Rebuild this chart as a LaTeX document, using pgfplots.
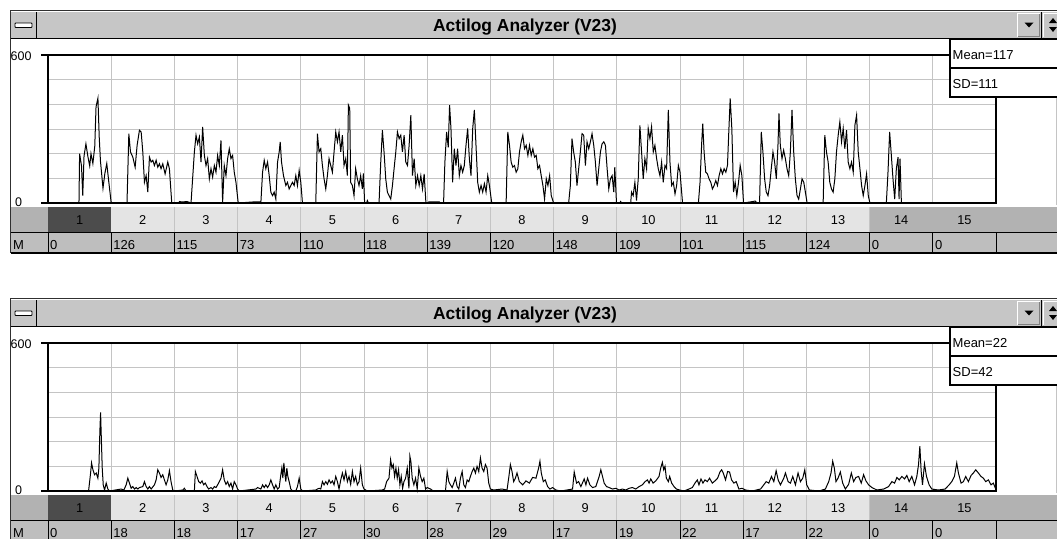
\documentclass[border=0pt]{standalone}
\usepackage{pgfplots}
\pgfplotsset{compat=1.18}
\usepackage{fontspec}
\setmainfont{Liberation Sans}
\definecolor{tbar}{HTML}{C6C6C6}
\definecolor{daylight}{HTML}{E4E4E4}
\definecolor{daydark}{HTML}{4C4C4C}
\definecolor{daymid}{HTML}{B2B2B2}
\definecolor{mrow}{HTML}{BEBEBE}
\definecolor{gridc}{HTML}{C4C4C4}
\definecolor{frame}{HTML}{303030}

\newcommand{\chrome}[4]{%
\begin{scope}[yshift=-#1pt]
 \fill[white] (10,-10) rectangle (1057,-253);
 \fill[tbar] (11,-12) rectangle (1057,-38);
 \draw[frame, line width=1.6pt] (10.5,-253) -- (10.5,-10.5) -- (1057,-10.5);
 \draw[black, line width=1pt] (11,-38.5) -- (1057,-38.5);
 \draw[black, line width=1pt] (36.5,-12) -- (36.5,-38);
 \draw[black, fill=white, line width=0.8pt, rounded corners=0.8pt] (15,-23) rectangle (32,-27.5);
 \node[font=\fontsize{17.4}{18}\selectfont\bfseries, anchor=base] at (525,-31.7) {Actilog Analyzer (V23)};
 \fill[tbar] (1017,-13) rectangle (1040,-37);
 \draw[white, line width=1pt] (1017.5,-37) -- (1017.5,-13.5) -- (1040,-13.5);
 \draw[gray, line width=1pt] (1017.5,-36.5) -- (1039.5,-36.5) -- (1039.5,-13.5);
 \fill[black] (1024.5,-22.5) -- (1033.5,-22.5) -- (1029,-27.5) -- cycle;
 \draw[black, line width=1pt] (1041.5,-12) -- (1041.5,-38);
 \fill[tbar] (1043,-13) rectangle (1057,-37);
 \draw[white, line width=1pt] (1043.5,-37) -- (1043.5,-13.5) -- (1057,-13.5);
 \fill[black] (1049,-23) -- (1057,-23) -- (1053,-18) -- cycle;
 \fill[black] (1049,-27) -- (1057,-27) -- (1053,-32) -- cycle;
 \node[font=\fontsize{12.5}{13}\selectfont, anchor=base east] at (35,-60) {600};
 \node[font=\fontsize{12.5}{13}\selectfont, anchor=base west] at (11.5,-206) {0};
 \fill[daymid] (11,-207) rectangle (48,-231.5);
 \fill[daydark] (48,-207) rectangle (111.2,-231.5);
 \fill[daylight] (111.2,-207) rectangle (869.6,-231.5);
 \fill[daymid] (869.6,-207) rectangle (1057,-231.5);
 \foreach \i in {2,...,13} \draw[gridc, line width=0.8pt] ({48+\i*63.2},-207) -- ({48+\i*63.2},-231.5);
 \foreach \i in {1,...,15} \node[font=\fontsize{12.8}{13}\selectfont, anchor=base] at ({48+(\i-0.5)*63.2},-224) {\i};
 \fill[mrow] (11,-232) rectangle (1057,-253);
 \draw[black, line width=1.5pt] (11,-232.5) -- (1057,-232.5);
 \draw[black, line width=1.2pt] (11,-253) -- (1057,-253);
 \foreach \i in {0,...,15} \draw[black, line width=1pt] ({48+\i*63.2},-232.5) -- ({48+\i*63.2},-253);
 \node[font=\fontsize{13}{13}\selectfont, anchor=base west, inner sep=0pt] at (13,-249) {M};
 \foreach \v [count=\i from 0] in {#4} \node[font=\fontsize{13}{13}\selectfont, anchor=base west, inner sep=0pt] at ({48+\i*63.2+2},-249) {\v};
\end{scope}}

\newcommand{\overlay}[3]{%
\begin{scope}[yshift=-#1pt]
 \draw[black, line width=1.1pt] (41,-55) -- (950,-55);
 \draw[black, line width=1.1pt] (41,-203) -- (996,-203);
 \draw[black, line width=1.1pt] (48,-55) -- (48,-203);
 \draw[black, line width=1.1pt] (996,-97) -- (996,-203.5);
 \draw[gridc, line width=1pt] (1056.5,-97) -- (1056.5,-205);
 \draw[black, fill=white, line width=1.5pt] (950,-39.5) rectangle (1058,-68);
 \draw[black, fill=white, line width=1.5pt] (950,-68) rectangle (1058,-97);
 \node[font=\fontsize{13}{14}\selectfont, anchor=base west, inner sep=0pt] at (952.5,-59.3) {Mean=#2};
 \node[font=\fontsize{13}{14}\selectfont, anchor=base west, inner sep=0pt] at (952.5,-88) {SD=#3};
\end{scope}}

\pgfplotsset{actistyle/.style={
  scale only axis, width=948pt, height=148pt, anchor=south west,
  xmin=0, xmax=15, ymin=0, ymax=600,
  xtick={0,...,15}, ytick={0,100,...,600},
  xticklabels={}, yticklabels={},
  grid=major, major grid style={gridc, line width=1pt},
  axis line style={draw=none}, tick style={draw=none},
  clip=false}}

\begin{document}
\begin{tikzpicture}[x=1pt,y=1pt]
\path[use as bounding box] (0,0) rectangle (1057,-538);
\clip (0,0) rectangle (1057,-538);
\fill[white] (0,0) rectangle (1057,-538);
\chrome{0}{117}{111}{0,126,115,73,110,118,139,120,148,109,101,115,124,0,0}
\chrome{288}{22}{42}{0,18,18,17,27,30,28,29,17,19,22,17,22,0,0}

\begin{axis}[actistyle, at={(48pt,-203pt)}]
\addplot[black, line width=1pt] coordinates {
(0,0) (0.49,0) (0.50,200) (0.53,150) (0.55,30) (0.57,190) (0.60,240) (0.63,190) (0.66,150) (0.68,200) (0.71,160) (0.74,230) (0.76,390) (0.79,425) (0.81,270) (0.83,170) (0.87,60) (0.90,120) (0.93,160) (0.96,90) (1.0,0)
(1.25,0) (1.279,281) (1.305,207) (1.342,186) (1.379,145) (1.41,234) (1.447,295) (1.474,288) (1.5,207) (1.526,84) (1.553,111) (1.579,44) (1.605,186) (1.632,166) (1.658,173) (1.684,152) (1.711,173) (1.737,145) (1.763,159) (1.789,139) (1.816,159) (1.853,118) (1.895,166) (1.921,139) (1.958,0)
(2.07,0) (2.08,6) (2.12,4) (2.2,6) (2.263,0) (2.316,207) (2.342,275) (2.368,240) (2.395,268) (2.421,166) (2.447,309) (2.474,193) (2.5,152) (2.526,180) (2.553,98) (2.579,139) (2.605,105) (2.632,152) (2.658,125) (2.684,193) (2.711,152) (2.737,254) (2.763,3) (2.789,152) (2.816,111) (2.842,180) (2.868,220) (2.895,180) (2.921,193) (2.947,125) (2.974,84) (3.01,0)
(3.289,5) (3.35,5) (3.368,0) (3.395,125) (3.421,173) (3.447,139) (3.474,166) (3.5,111) (3.526,44) (3.553,30) (3.579,44) (3.605,16) (3.632,166) (3.658,207) (3.674,248) (3.695,166) (3.726,111) (3.763,71) (3.789,84) (3.816,57) (3.842,71) (3.868,84) (3.895,71) (3.921,111) (3.947,71) (3.974,132) (4.0,84) (4.026,0)
(4.237,0) (4.263,281) (4.289,207) (4.316,220) (4.342,152) (4.368,98) (4.395,57) (4.421,111) (4.447,180) (4.474,152) (4.5,125) (4.526,207) (4.553,288) (4.579,248) (4.605,288) (4.632,207) (4.658,275) (4.684,152) (4.711,180) (4.737,111) (4.753,397) (4.774,384) (4.789,84) (4.816,71) (4.842,30) (4.868,139) (4.895,98) (4.921,71) (4.947,111) (4.974,57) (4.99,120) (5.01,0)
(5.04,0) (5.053,10) (5.07,0) (5.238,0) (5.265,166) (5.291,295) (5.317,207) (5.344,98) (5.370,44) (5.397,30) (5.423,16) (5.45,71) (5.476,139) (5.503,207) (5.529,288) (5.556,261) (5.582,275) (5.608,207) (5.635,275) (5.661,166) (5.688,152) (5.714,234) (5.741,356) (5.767,111) (5.794,180) (5.820,71) (5.847,111) (5.873,71) (5.899,111) (5.926,57) (5.952,118) (5.979,3) (5.99,0)
(6.032,5) (6.1,5) (6.19,5) (6.21,0) (6.259,0) (6.280,166) (6.307,288) (6.333,226) (6.354,397) (6.376,302) (6.402,84) (6.429,220) (6.455,152) (6.481,220) (6.508,111) (6.534,152) (6.561,125) (6.587,152) (6.614,234) (6.640,302) (6.667,180) (6.693,111) (6.720,302) (6.746,377) (6.772,234) (6.799,84) (6.825,44) (6.852,71) (6.878,44) (6.905,78) (6.931,44) (6.958,111) (6.984,71) (7.021,0)
(7.249,0) (7.275,288) (7.302,234) (7.328,166) (7.354,145) (7.381,152) (7.407,125) (7.434,139) (7.460,207) (7.487,248) (7.513,275) (7.540,220) (7.566,234) (7.593,193) (7.619,234) (7.646,193) (7.672,220) (7.698,186) (7.725,193) (7.751,139) (7.778,152) (7.804,111) (7.831,71) (7.857,16) (7.884,98) (7.910,71) (7.937,111) (7.963,30) (8.0,0)
(8.238,0) (8.265,71) (8.291,261) (8.317,207) (8.344,166) (8.370,71) (8.397,139) (8.423,207) (8.450,281) (8.476,275) (8.503,152) (8.529,248) (8.556,220) (8.582,248) (8.608,281) (8.635,234) (8.661,166) (8.688,71) (8.714,139) (8.741,207) (8.767,240) (8.794,248) (8.820,234) (8.847,139) (8.873,57) (8.899,98) (8.926,111) (8.952,44) (8.968,145) (8.995,0)
(9.05,0) (9.06,6) (9.08,0) (9.22,0) (9.233,44) (9.259,30) (9.286,84) (9.312,10) (9.339,98) (9.365,315) (9.392,207) (9.418,98) (9.444,180) (9.471,139) (9.497,302) (9.524,261) (9.550,309) (9.577,207) (9.603,234) (9.630,180) (9.656,139) (9.683,111) (9.709,166) (9.735,84) (9.762,152) (9.788,139) (9.815,377) (9.841,166) (9.868,71) (9.894,84) (9.921,37) (9.947,71) (9.974,152) (10.0,125) (10.04,0)
(10.291,0) (10.317,84) (10.344,248) (10.360,322) (10.381,207) (10.407,125) (10.434,118) (10.460,98) (10.487,84) (10.513,57) (10.540,71) (10.566,91) (10.593,71) (10.619,111) (10.646,139) (10.672,118) (10.698,139) (10.725,125) (10.751,152) (10.772,288) (10.794,424) (10.820,302) (10.847,44) (10.873,84) (10.899,30) (10.926,84) (10.952,152) (10.979,111) (11.005,0)
(11.153,6) (11.19,8) (11.217,0) (11.259,0) (11.286,288) (11.312,207) (11.339,98) (11.365,44) (11.392,30) (11.418,71) (11.444,139) (11.471,207) (11.497,166) (11.524,98) (11.550,234) (11.566,363) (11.587,234) (11.614,180) (11.640,214) (11.667,180) (11.693,139) (11.720,111) (11.746,207) (11.772,377) (11.799,207) (11.825,98) (11.852,30) (11.878,16) (11.905,57) (11.931,98) (11.958,84) (11.984,44) (12.011,0)
(12.265,0) (12.291,275) (12.317,207) (12.344,166) (12.370,84) (12.397,57) (12.423,44) (12.450,98) (12.476,207) (12.503,275) (12.529,329) (12.556,248) (12.582,302) (12.608,220) (12.635,295) (12.661,166) (12.688,139) (12.714,166) (12.741,125) (12.767,315) (12.794,356) (12.820,207) (12.847,139) (12.873,71) (12.899,30) (12.926,71) (12.952,118) (12.979,30) (13.005,0)
(13.265,0) (13.291,125) (13.317,288) (13.344,193) (13.370,98) (13.397,16) (13.423,139) (13.450,186) (13.466,16) (13.481,180) (13.503,0) (15,0)
};
\end{axis}

\begin{axis}[actistyle, at={(48pt,-491pt)}]
\addplot[black, line width=1pt] coordinates {
(0,0) (0.642,0) (0.674,73) (0.689,114) (0.711,86) (0.737,66) (0.763,73) (0.789,52) (0.805,93) (0.821,244) (0.832,319) (0.842,230) (0.858,93) (0.874,25) (0.895,4) (0.921,32) (0.947,8) (0.974,0)
(1.158,8) (1.2,4) (1.237,25) (1.263,52) (1.289,32) (1.316,11) (1.342,18) (1.368,8) (1.395,14) (1.421,8) (1.447,14) (1.5,18) (1.526,38) (1.553,18) (1.579,8) (1.605,18) (1.632,8) (1.684,25) (1.711,45) (1.737,86) (1.763,73) (1.789,55) (1.816,66) (1.842,45) (1.868,25) (1.895,45) (1.921,82) (1.947,38) (1.974,4) (2.0,0)
(2.132,4) (2.158,11) (2.184,0) (2.316,0) (2.332,79) (2.358,59) (2.384,38) (2.411,32) (2.437,41) (2.463,25) (2.489,32) (2.516,18) (2.542,8) (2.579,14) (2.605,8) (2.632,18) (2.658,14) (2.684,25) (2.711,38) (2.737,52) (2.763,86) (2.789,45) (2.816,27) (2.842,38) (2.868,18) (2.895,32) (2.921,8) (2.947,38) (2.974,25) (3.0,8) (3.026,0)
(3.289,8) (3.316,14) (3.368,8) (3.395,25) (3.421,14) (3.447,25) (3.474,14) (3.5,25) (3.526,45) (3.553,25) (3.579,8) (3.605,25) (3.632,8) (3.658,14) (3.684,66) (3.7,93) (3.716,52) (3.732,114) (3.747,73) (3.763,38) (3.779,93) (3.795,59) (3.816,38) (3.842,8) (3.868,0) (3.921,0) (3.947,18) (3.974,52) (4.0,8) (4.026,0)
(4.237,4) (4.263,8) (4.289,11) (4.316,8) (4.342,38) (4.368,25) (4.395,38) (4.421,27) (4.447,45) (4.474,32) (4.5,41) (4.526,25) (4.553,59) (4.579,38) (4.605,8) (4.632,45) (4.658,73) (4.684,45) (4.711,79) (4.737,38) (4.763,59) (4.789,27) (4.816,79) (4.842,38) (4.868,59) (4.895,25) (4.921,38) (4.947,93) (4.974,25) (5.0,8) (5.053,0)
(5.289,4) (5.326,8) (5.358,38) (5.395,52) (5.421,127) (5.442,93) (5.463,107) (5.484,59) (5.505,93) (5.526,52) (5.547,86) (5.568,25) (5.589,59) (5.611,11) (5.632,38) (5.658,52) (5.684,93) (5.711,11) (5.726,141) (5.742,120) (5.763,52) (5.789,25) (5.816,52) (5.842,8) (5.868,93) (5.895,59) (5.921,38) (5.947,52) (5.974,8) (6.0,14) (6.053,8) (6.095,0)
(6.289,0) (6.316,79) (6.342,38) (6.368,25) (6.395,14) (6.421,32) (6.447,52) (6.474,18) (6.5,8) (6.526,52) (6.553,79) (6.579,25) (6.605,14) (6.632,45) (6.658,38) (6.684,59) (6.711,79) (6.737,93) (6.763,73) (6.789,100) (6.816,79) (6.842,134) (6.868,93) (6.895,79) (6.921,107) (6.947,93) (6.974,32) (7.0,8) (7.053,4)
(7.184,8) (7.263,4) (7.289,52) (7.316,107) (7.342,79) (7.368,38) (7.395,52) (7.421,73)
(7.458,38) (7.511,25) (7.563,41) (7.616,32) (7.668,55) (7.721,52) (7.763,93) (7.784,121) (7.805,73) (7.837,38) (7.868,45) (7.905,18) (7.942,8) (7.984,14) (8.037,4) (8.116,0)
(8.3,8) (8.326,77) (8.363,32) (8.395,38) (8.432,18) (8.484,49) (8.511,25) (8.537,52) (8.574,25) (8.616,14) (8.668,18) (8.721,59) (8.747,86) (8.774,59) (8.8,32) (8.837,18) (8.879,14) (8.932,8) (8.984,11)
(9.037,4) (9.089,8) (9.142,4) (9.195,11) (9.247,14) (9.3,8) (9.353,18) (9.405,25) (9.447,38) (9.484,45) (9.511,32) (9.537,49) (9.574,32) (9.616,41) (9.668,59) (9.695,93) (9.721,116) (9.742,86) (9.763,100) (9.784,52) (9.816,38) (9.837,59) (9.868,32) (9.905,18) (9.942,8) (9.995,4) (10.063,0)
(10.142,8) (10.195,14) (10.237,32) (10.274,45) (10.3,25) (10.332,49) (10.363,32) (10.395,45) (10.432,38) (10.468,52) (10.511,32) (10.553,41) (10.595,52) (10.632,77) (10.658,86) (10.684,73) (10.721,45) (10.753,79) (10.784,77) (10.816,45) (10.853,32) (10.889,38) (10.932,8) (10.984,11) (11.037,4) (11.142,0)
(11.274,8) (11.326,25) (11.363,38) (11.405,32) (11.447,59) (11.484,38) (11.521,82) (11.553,45) (11.589,25) (11.642,52) (11.668,73) (11.711,38) (11.747,32) (11.784,59) (11.826,25) (11.868,73) (11.905,38) (11.942,52) (11.974,86) (12.005,25) (12.047,4) (12.2,0)
(12.3,8) (12.353,38) (12.389,73) (12.416,121) (12.442,93) (12.468,38) (12.5,52) (12.537,77) (12.574,32) (12.616,8) (12.668,27) (12.711,73) (12.747,38) (12.784,55) (12.826,59) (12.868,32) (12.905,66) (12.942,41) (12.984,25) (13.037,14) (13.116,4)
(13.221,8) (13.3,18) (13.353,38) (13.395,32) (13.432,55) (13.468,45) (13.511,59) (13.553,49) (13.589,63) (13.626,38) (13.668,59) (13.711,25) (13.747,59) (13.774,107) (13.795,182) (13.816,79) (13.837,25) (13.868,110) (13.9,59) (13.942,25) (13.984,8) (14.089,4)
(14.195,8) (14.258,25) (14.3,38) (14.342,59) (14.379,114) (14.405,73) (14.447,32) (14.484,38) (14.521,59) (14.563,38) (14.605,63) (14.642,73) (14.679,86) (14.721,73) (14.763,59) (14.8,52) (14.837,38) (14.879,45) (14.921,25) (14.958,32) (14.995,8) (15,0)
};
\end{axis}

\overlay{0}{117}{111}
\overlay{288}{22}{42}
\end{tikzpicture}
\end{document}
